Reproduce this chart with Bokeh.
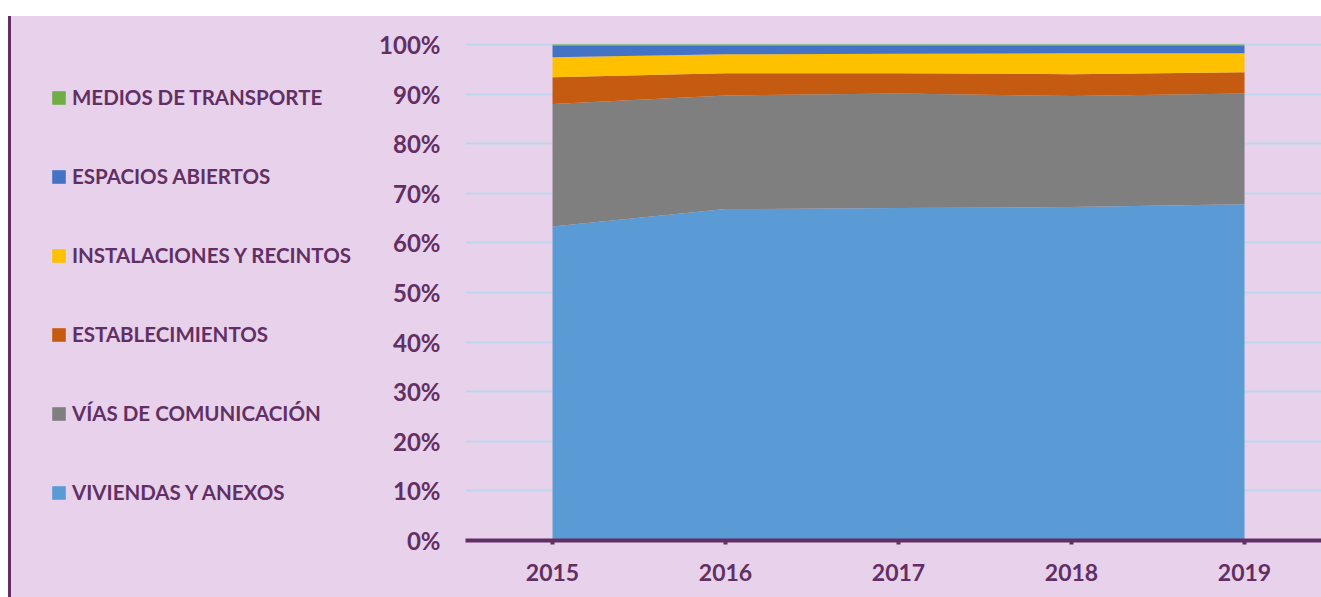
from bokeh.plotting import figure
from bokeh.models import (ColumnDataSource, FixedTicker, Legend, LegendItem,
                          NumeralTickFormatter, Spacer, Range1d)
from bokeh.layouts import row, column
from bokeh.embed import file_html
from bokeh.resources import INLINE

years = [2015, 2016, 2017, 2018, 2019]
series_names = ["VIVIENDAS Y ANEXOS", "VÍAS DE COMUNICACIÓN", "ESTABLECIMIENTOS",
                "INSTALACIONES Y RECINTOS", "ESPACIOS ABIERTOS", "MEDIOS DE TRANSPORTE"]
viviendas = [0.633, 0.668, 0.670, 0.672, 0.678]
vias = [0.247, 0.229, 0.231, 0.224, 0.223]
establecimientos = [0.054, 0.045, 0.041, 0.044, 0.043]
instalaciones = [0.040, 0.038, 0.039, 0.042, 0.038]
espacios = [0.023, 0.017, 0.016, 0.015, 0.015]
medios = [0.003, 0.003, 0.003, 0.003, 0.003]
colors = ["#5B9BD5", "#7F7F7F", "#C55A11", "#FFC000", "#4472C4", "#70AD47"]

BG = "#E8D1EA"
PURPLE = "#612F64"
FONT = "Lato"

keys = ["viv", "vias", "est", "inst", "esp", "med"]
source = ColumnDataSource(dict(year=years, viv=viviendas, vias=vias, est=establecimientos,
                               inst=instalaciones, esp=espacios, med=medios))

H = 581
W = 956
WL = 354

# ---------------- main chart ----------------
p = figure(width=W, height=H, output_backend="svg", toolbar_location=None,
           x_range=Range1d(2014.497, 2019.445), y_range=Range1d(0, 1.028),
           min_border_left=100, min_border_right=0, min_border_top=14, min_border_bottom=57)
p.background_fill_color = BG
p.border_fill_color = BG
p.outline_line_color = None

renderers = p.varea_stack(keys, x="year", color=colors, source=source)

p.xgrid.grid_line_color = None
p.ygrid.grid_line_color = "#BDD7EE"
p.ygrid.grid_line_width = 2
p.ygrid.ticker = FixedTicker(ticks=[i / 10 for i in range(11)])

p.xaxis.ticker = FixedTicker(ticks=years)
p.xaxis.axis_line_color = PURPLE
p.xaxis.axis_line_width = 4
p.xaxis.major_tick_line_color = PURPLE
p.xaxis.major_tick_line_width = 4
p.xaxis.major_tick_out = 4
p.xaxis.major_tick_in = 0
p.xaxis.minor_tick_line_color = None
p.xaxis.major_label_text_font = FONT
p.xaxis.major_label_text_font_style = "bold"
p.xaxis.major_label_text_font_size = "23px"
p.xaxis.major_label_text_color = PURPLE
p.xaxis.major_label_standoff = 19

p.yaxis.ticker = FixedTicker(ticks=[i / 10 for i in range(11)])
p.yaxis.formatter = NumeralTickFormatter(format="0%")
p.yaxis.axis_line_color = None
p.yaxis.major_tick_line_color = None
p.yaxis.minor_tick_line_color = None
p.yaxis.major_tick_out = 0
p.yaxis.major_tick_in = 0
p.yaxis.major_label_text_font = FONT
p.yaxis.major_label_text_font_style = "bold"
p.yaxis.major_label_text_font_size = "24px"
p.yaxis.major_label_text_color = PURPLE
p.yaxis.major_label_standoff = 25

# ---------------- legend panel (same series, kept outside its visible range) ----------------
pl = figure(width=WL, height=H, output_backend="svg", toolbar_location=None,
            x_axis_location=None, y_axis_location=None,
            x_range=Range1d(0, 1), y_range=Range1d(0, 1),
            min_border_left=0, min_border_right=0, min_border_top=0, min_border_bottom=0)
pl.background_fill_alpha = 0
pl.border_fill_alpha = 0
pl.outline_line_color = None
pl.grid.grid_line_color = None

swatches = pl.varea_stack(keys, x="year", color=colors, source=source)
items = [LegendItem(label=series_names[i], renderers=[swatches[i]]) for i in reversed(range(6))]
legend = Legend(items=items, location=(39, 36), orientation="vertical",
                glyph_width=17, glyph_height=17, label_height=24, spacing=55,
                label_standoff=5, padding=0, margin=0,
                border_line_color=None, background_fill_alpha=0,
                label_text_font=FONT, label_text_font_style="bold",
                label_text_font_size="20.5px", label_text_color=PURPLE)
pl.add_layout(legend, "center")

top_pad = Spacer(width=1321, height=16)
left_pad = Spacer(width=8, height=H, styles={"background-color": "white"})
left_bar = Spacer(width=3, height=H, styles={"background-color": PURPLE})
layout = column(top_pad,
                row(left_pad, left_bar, pl, p, spacing=0, styles={"background-color": BG}),
                spacing=0)

open("out.html", "w").write(file_html(layout, INLINE))
